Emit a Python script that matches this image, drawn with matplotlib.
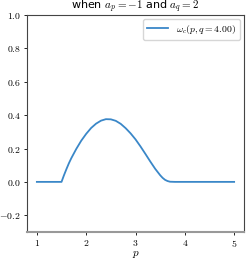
import matplotlib
matplotlib.use('Agg')
import matplotlib.pyplot as plt
from matplotlib.ticker import FuncFormatter

plt.rcParams['mathtext.fontset'] = 'cm'

# omega_c(p, q=4)
p = [1.0, 1.1, 1.2, 1.3, 1.4, 1.5, 1.55, 1.6, 1.65, 1.7, 1.8, 1.9, 2.0,
     2.1, 2.2, 2.3, 2.4, 2.5, 2.6, 2.7, 2.8, 2.9, 3.0,
     3.1, 3.2, 3.3, 3.4, 3.5, 3.55, 3.6, 3.65, 3.7, 3.8, 3.9, 4.0,
     4.2, 4.4, 4.6, 4.8, 5.0]
w = [0.0, 0.0, 0.0, 0.0, 0.0, 0.0, 0.04, 0.077, 0.112, 0.143, 0.198, 0.247, 0.288,
     0.323, 0.349, 0.367, 0.376, 0.375, 0.366, 0.348, 0.322, 0.291, 0.255,
     0.213, 0.168, 0.122, 0.078, 0.04, 0.024, 0.012, 0.005, 0.001, 0.0, 0.0, 0.0,
     0.0, 0.0, 0.0, 0.0, 0.0]

fig = plt.figure(figsize=(2.5, 2.6), dpi=100)
ax = fig.add_axes([0.108, 0.108, 0.868, 0.834])
ax.plot(p, w, color='#3a87c8', lw=1.3, label=r'$\omega_c(p, q=4.00)$')
ax.set_ylim(-0.3, 1.0)
ax.set_xticks([1, 2, 3, 4, 5])
ax.set_yticks([-0.2, 0.0, 0.2, 0.4, 0.6, 0.8, 1.0])
ax.xaxis.set_major_formatter(FuncFormatter(lambda v, pos: r'$%d$' % v))
ax.yaxis.set_major_formatter(FuncFormatter(lambda v, pos: r'$%.1f$' % v))
ax.tick_params(labelsize=7, length=2.5, width=0.6, pad=2)
ax.set_xlabel(r'$p$', fontsize=8, labelpad=0)
ax.set_title(r'when $a_p=-1$ and $a_q=2$', fontsize=8, pad=2)
for s in ['top', 'right', 'left']:
    ax.spines[s].set_color('#444444')
    ax.spines[s].set_linewidth(0.8)
ax.spines['bottom'].set_color('#999999')
ax.spines['bottom'].set_linewidth(1.5)
ax.legend(loc='upper right', fontsize=7, handlelength=2.2, borderaxespad=0.4)
fig.savefig('out.png', dpi=100)
